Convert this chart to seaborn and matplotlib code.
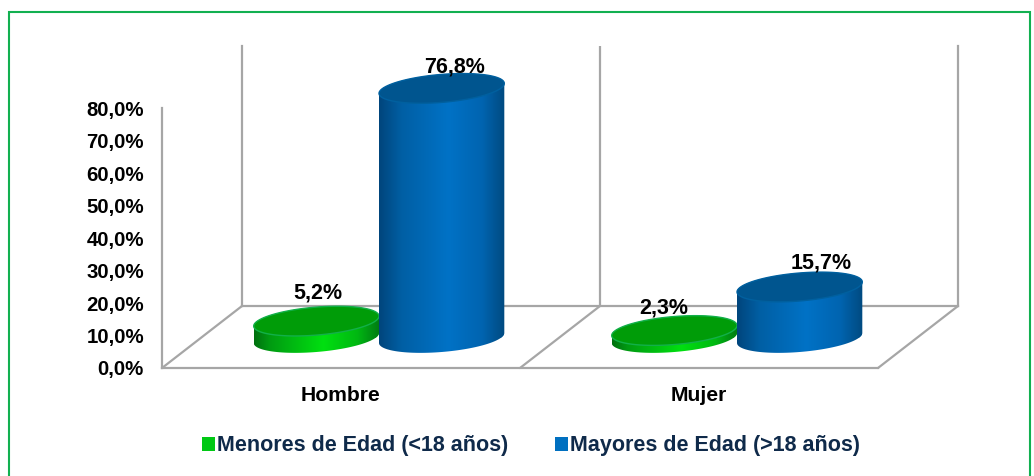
import numpy as np
import pandas as pd
import matplotlib
matplotlib.use("Agg")
import matplotlib.pyplot as plt
from matplotlib.colors import LinearSegmentedColormap
from matplotlib.patches import ConnectionPatch, PathPatch, Rectangle
from matplotlib.path import Path
import seaborn as sns

# ---- data ----
categorias = ["Hombre", "Mujer"]
series = ["Menores de Edad (<18 años)", "Mayores de Edad (>18 años)"]
menores = [5.2, 2.3]
mayores = [76.8, 15.7]
etiquetas_y = ["0,0%", "10,0%", "20,0%", "30,0%", "40,0%", "50,0%", "60,0%", "70,0%", "80,0%"]

# ---- layout (pixels of the 1034x476 canvas) ----
W, H = 1034, 476
PX_PER_PCT = 3.25
FRONT_LEFT, FRONT_RIGHT, FRONT_BASE = 162, 878, 368
BACK_SHIFT = (80, -62)
MID_SHIFT = (38, -30)
GRIS = "#A6A6A6"
TINTA = "#0F2A4A"

sns.set_theme(style="white")
plt.rcParams["font.family"] = ["Liberation Sans", "DejaVu Sans"]
plt.rcParams["font.weight"] = "bold"

fig = plt.figure(figsize=(W / 100, H / 100), dpi=100, facecolor="white")


def plane_axes(shift, lo, hi):
    """Axes for one depth plane; y runs from lo to hi percent."""
    left = FRONT_LEFT + shift[0]
    width = FRONT_RIGHT - FRONT_LEFT
    base = FRONT_BASE + shift[1]
    bottom = H - (base - lo * PX_PER_PCT)
    height = (hi - lo) * PX_PER_PCT
    ax = fig.add_axes([left / W, bottom / H, width / W, height / H])
    ax.set_xlim(-0.5, 1.5)
    ax.set_ylim(lo, hi)
    ax.patch.set_alpha(0)
    return ax


# back wall
ax_back = plane_axes(BACK_SHIFT, 0, 80)
ax_back.set_zorder(0)
ax_back.set_xticks([])
ax_back.set_yticks([])
for side in ["left", "right", "bottom"]:
    ax_back.spines[side].set(color=GRIS, linewidth=1.6)
ax_back.spines["top"].set_visible(False)
ax_back.axvline(0.5, color=GRIS, linewidth=1.6)

# front axis with the scale and the categories
ax_front = plane_axes((0, 0), 0, 80)
ax_front.set_zorder(1)
ax_front.set_xticks([0, 1], categorias)
ax_front.set_yticks(np.arange(0, 81, 10), etiquetas_y)
ax_front.tick_params(axis="y", length=0, pad=13, labelsize=14.7, labelcolor="black")
ax_front.tick_params(axis="x", length=0, pad=13, labelsize=15.2, labelcolor="black")
for side in ["left", "bottom"]:
    ax_front.spines[side].set(color=GRIS, linewidth=1.6)
for side in ["top", "right"]:
    ax_front.spines[side].set_visible(False)

# floor diagonals, joining the same scale position on both planes
for x in (-0.5, 0.5, 1.5):
    fig.add_artist(ConnectionPatch((x, 0), (x, 0), "data", "data",
                                   axesA=ax_front, axesB=ax_back,
                                   color=GRIS, linewidth=1.6, zorder=0.5))

# cylinders live on the middle depth plane
df = pd.DataFrame({
    "Sexo": categorias * 2,
    "Porcentaje": menores + mayores,
    "Grupo": [series[0]] * 2 + [series[1]] * 2,
})
ax = plane_axes(MID_SHIFT, -10, 90)
ax.set_zorder(2)
sns.barplot(data=df, x="Sexo", y="Porcentaje", hue="Grupo", hue_order=series,
            palette=["#00C814", "#0070C0"], saturation=1, width=0.70, gap=0, ax=ax,
            edgecolor="none", linewidth=0)
ax.set_xlim(-0.5, 1.5)
ax.set_ylim(-10, 90)
ax.set_xlabel("")
ax.set_ylabel("")
ax.set_xticks([])
ax.set_yticks([])
for s in ax.spines.values():
    s.set_visible(False)

cm_verde = LinearSegmentedColormap.from_list(
    "verde", [(0, "#00700F"), (0.12, "#009A12"), (0.55, "#00E010"), (0.82, "#00B812"), (1, "#007A12")])
cm_azul = LinearSegmentedColormap.from_list(
    "azul", [(0, "#00457C"), (0.18, "#005FA4"), (0.55, "#0072C6"), (0.82, "#0064B0"), (1, "#004A80")])
estilos = [
    (cm_verde, "#009C08", "#12B04A"),
    (cm_azul, "#00558F", "#00609F"),
]
rad_y = 14 / PX_PER_PCT      # half height of the ellipse
skew_y = 5 / PX_PER_PCT      # the ellipses rise towards the right
t = np.linspace(0, 2 * np.pi, 121)


def elipse(cx, cy, a):
    return np.column_stack([cx + a * np.cos(t),
                            cy + rad_y * np.sin(t) + skew_y * np.cos(t)])


offsets = [[(2, 28), (-11, 23)], [(13, 21), (22, 24)]]
valores = [menores, mayores]
for s_i, serie in enumerate(valores):
    cont = ax.containers[s_i]
    cmap, tapa, borde = estilos[s_i]
    for c_i, (bar, val) in enumerate(zip(cont.patches, serie)):
        x0, a = bar.get_x(), bar.get_width() / 2
        cx = x0 + a
        z = 3 + s_i * 2 + c_i * 0.1
        low = elipse(cx, 0, a)
        top = elipse(cx, val, a)
        # silhouette: upper half of the top (right to left), then lower half of the base
        verts = np.vstack([top[t <= np.pi], low[t >= np.pi]])
        body = PathPatch(Path(np.vstack([verts, verts[0]]), closed=True),
                         transform=ax.transData, facecolor="none", edgecolor="none")
        ax.add_patch(body)
        bar.set_zorder(z - 0.5)
        bar.set_clip_path(body)
        grad = ax.imshow(np.linspace(0, 1, 256)[None, :], cmap=cmap, aspect="auto",
                         extent=[x0, x0 + 2 * a, -rad_y - skew_y - 1, val + rad_y + skew_y + 1],
                         zorder=z, interpolation="bilinear")
        grad.set_clip_path(body)
        ax.add_patch(PathPatch(Path(np.vstack([top, top[0]]), closed=True),
                               facecolor=tapa, edgecolor=borde, linewidth=1.0, zorder=z + 0.1))
        dx, dy = offsets[s_i][c_i]
        ax.annotate(f"{val:.1f}%".replace(".", ","), (cx, val), xytext=(dx * 0.72, dy * 0.72),
                    textcoords="offset points", ha="center", va="center",
                    fontsize=15.5, fontweight="bold", color="black", zorder=20,
                    annotation_clip=False)
ax.set_xlim(-0.5, 1.5)
ax.set_ylim(-10, 90)

# legend
sns.move_legend(ax, "center", bbox_to_anchor=(531 / W, (H - 446) / H),
                bbox_transform=fig.transFigure, ncol=2, title=None, frameon=False,
                fontsize=15.5, handlelength=0.6, handleheight=0.6,
                handletextpad=0.1, columnspacing=2.2, borderpad=0, borderaxespad=0)
for txt in ax.get_legend().get_texts():
    txt.set_color(TINTA)
    txt.set_fontweight("bold")

# outer frame
fig.add_artist(Rectangle((8.5 / W, -0.02), (1030 - 8.5) / W, (H - 12) / H + 0.02,
                         transform=fig.transFigure, facecolor="none",
                         edgecolor="#12B050", linewidth=1.5, zorder=10))

fig.savefig("out.png", dpi=100)
